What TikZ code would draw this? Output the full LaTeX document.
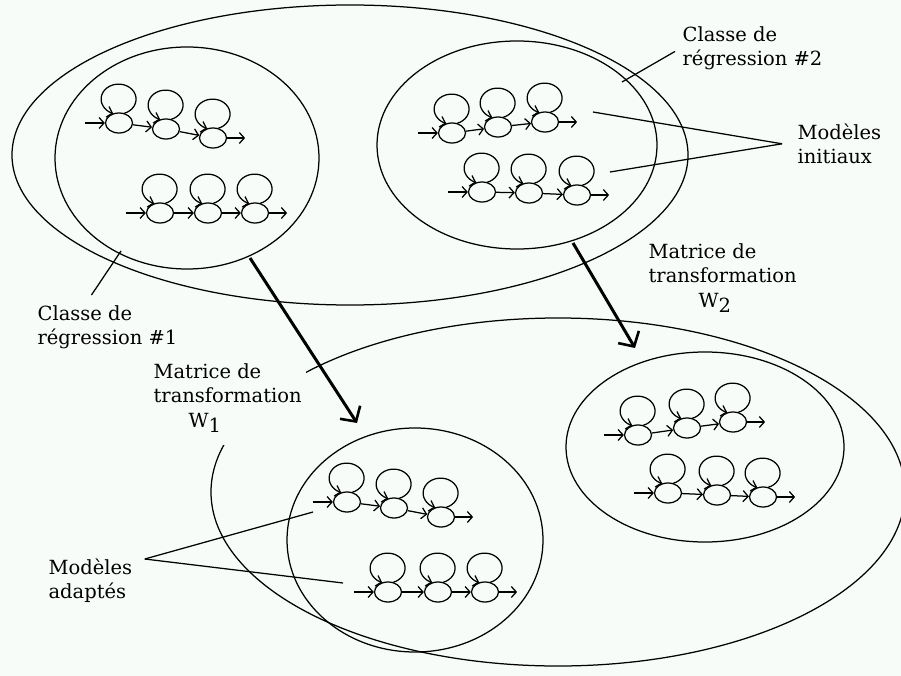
\documentclass[tikz,border=0pt]{standalone}
\usepackage{fontspec}
\setmainfont{DejaVu Serif}
\usetikzlibrary{arrows.meta,shapes.geometric}
\definecolor{bg}{RGB}{248,252,248}
\tikzset{
  st/.style={draw, ellipse, minimum width=27pt, minimum height=20pt, inner sep=0pt},
  sarr/.style={-{Straight Barb[length=5pt,width=11pt]}},
  bigarr/.style={line width=3pt,-{Straight Barb[length=11pt,width=24pt,line width=2.6pt]}},
  lab/.style={anchor=north west, align=left, inner sep=0pt, font=\fontsize{19.5}{24.5}\selectfont},
}
\newcommand\hmmc[4]{%
  \node[st] (#1a) at (#2) {};
  \node[st] (#1b) at (#3) {};
  \node[st] (#1c) at (#4) {};
  \coordinate (#1i) at ([xshift=-20pt]#1a.west);
  \coordinate (#1o) at ([xshift=18pt]#1c.east);
  \draw[sarr] (#1i) -- (#1a);
  \draw[sarr] (#1a) -- (#1b);
  \draw[sarr] (#1b) -- (#1c);
  \draw[sarr] (#1c) -- (#1o);
  \foreach \s in {a,b,c}{\draw[sarr] ([xshift=5pt,yshift=-1pt]#1\s.north) arc[start angle=-72,end angle=252,x radius=17.5pt,y radius=15pt];}
}
\begin{document}
\begin{tikzpicture}[x=1pt,y=-1pt,line width=1.25pt]
\fill[bg] (0,0) rectangle (901,676);
\useasboundingbox (0,0) rectangle (901,676);
% regions
\draw (350,155) ellipse [x radius=338, y radius=150];
\draw (187,158) ellipse [x radius=132, y radius=111];
\draw (517,145) ellipse [x radius=140, y radius=104];
\draw (558,492) ellipse [x radius=347, y radius=174];
\draw (415,540) ellipse [x radius=128, y radius=112];
\draw (705,447) ellipse [x radius=139, y radius=95];
% models
\hmmc{p}{119,123}{166,129}{213,138}
\hmmc{q}{160,213}{208,213}{255,213}
\hmmc{r}{452,133}{498,127}{545,122}
\hmmc{s}{482,192}{529,193}{577,195}
\hmmc{u}{347,502}{394,508}{441,517}
\hmmc{v}{388,592}{438,592}{485,592}
\hmmc{w}{638,435}{687,428}{733,422}
\hmmc{z}{668,493}{717,495}{763,497}
% transformation arrows
\coordinate (a1s) at (250,258); \coordinate (a1e) at (357,423);
\coordinate (a2s) at (573,243); \coordinate (a2e) at (635,348);
\draw[bigarr] (a1s) -- (a1e);
\draw[bigarr] (a2s) -- (a2e);
% labels
\node[lab] (lr2) at (682,26) {Classe de\\régression \#2};
\node[lab] (lmi) at (797,123) {Modèles\\initiaux};
\node[lab] (lr1) at (37,305) {Classe de\\régression \#1};
\node[lab, fill=bg, inner xsep=4pt, inner ysep=12pt] (lw1) at (149,351) {Matrice de\\transformation\\\hspace*{35pt}W\raisebox{-0.5ex}{1}};
\node[lab] (lw2) at (648,243) {Matrice de\\transformation\\\hspace*{50pt}W\raisebox{-0.5ex}{2}};
\node[lab] (lma) at (48,558) {Modèles\\adaptés};
% pointers
\coordinate (t2) at (622,82);
\coordinate (ti1) at (593,112); \coordinate (ti2) at (610,172);
\coordinate (t1) at (121,251);
\coordinate (ta1) at (313,512); \coordinate (ta2) at (343,583);
\draw ([shift={(-7,3)}]lr2.west) -- (t2);
\draw ([xshift=-15pt]lmi.west) -- (ti1);
\draw ([xshift=-15pt]lmi.west) -- (ti2);
\draw ([shift={(-16,-10)}]lr1.north) -- (t1);
\draw ([shift={(12,1)}]lma.north east) -- (ta1);
\draw ([shift={(12,1)}]lma.north east) -- (ta2);
\end{tikzpicture}
\end{document}
